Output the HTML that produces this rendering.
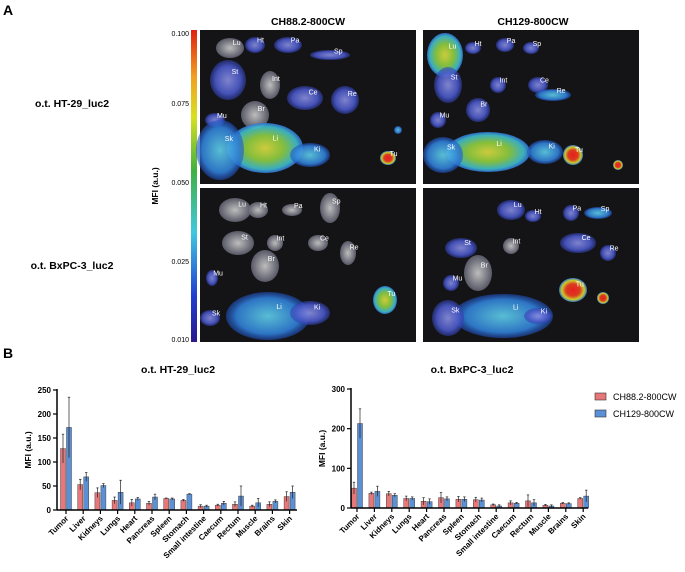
<!DOCTYPE html>
<html><head><meta charset="utf-8"><style>
body{margin:0;background:#fff;font-family:"Liberation Sans",Arial,sans-serif;}
svg text{font-family:"Liberation Sans",Arial,sans-serif;}
</style></head><body>
<svg id="fig" width="685" height="567" viewBox="0 0 685 567">
<defs>
<linearGradient id="cbar" x1="0" y1="1" x2="0" y2="0">
<stop offset="0" stop-color="#2a1a8a"/><stop offset="0.15" stop-color="#2040d0"/><stop offset="0.35" stop-color="#40c8e0"/><stop offset="0.55" stop-color="#40b040"/><stop offset="0.72" stop-color="#d8e020"/><stop offset="0.85" stop-color="#f0a020"/><stop offset="1" stop-color="#e02010"/>
</linearGradient>
<radialGradient id="gBlue"><stop offset="0" stop-color="#8a90e0"/><stop offset="0.7" stop-color="#4a58c8"/><stop offset="1" stop-color="#3040b0" stop-opacity="0.6"/></radialGradient>
<radialGradient id="gCyan"><stop offset="0" stop-color="#60d0e8"/><stop offset="0.75" stop-color="#3080d8"/><stop offset="1" stop-color="#2050c0" stop-opacity="0.6"/></radialGradient>
<radialGradient id="gGreen"><stop offset="0" stop-color="#e0e040"/><stop offset="0.5" stop-color="#90d040"/><stop offset="0.85" stop-color="#40c0d0"/><stop offset="1" stop-color="#3070d0"/></radialGradient>
<radialGradient id="gRed"><stop offset="0" stop-color="#ff2020"/><stop offset="0.5" stop-color="#f04020"/><stop offset="0.8" stop-color="#e0e030"/><stop offset="1" stop-color="#3080d8"/></radialGradient>
<radialGradient id="gGray"><stop offset="0" stop-color="#d0d0d0"/><stop offset="1" stop-color="#606070"/></radialGradient>
</defs>
<text x="3" y="15" font-size="14" font-weight="bold">A</text>
<text x="3" y="358" font-size="14" font-weight="bold">B</text>
<text x="308" y="25" font-size="10.5" font-weight="bold" text-anchor="middle">CH88.2-800CW</text>
<text x="533" y="25" font-size="10.5" font-weight="bold" text-anchor="middle">CH129-800CW</text>
<text x="72" y="107" font-size="10.5" font-weight="bold" text-anchor="middle">o.t. HT-29_luc2</text>
<text x="72" y="269" font-size="10.5" font-weight="bold" text-anchor="middle">o.t. BxPC-3_luc2</text>
<rect x="191" y="30" width="6" height="312" fill="url(#cbar)"/>
<g font-size="7" text-anchor="end">
<text x="189" y="36">0.100</text><text x="189" y="106">0.075</text><text x="189" y="185">0.050</text><text x="189" y="264">0.025</text><text x="189" y="342">0.010</text></g>
<text transform="translate(158,186) rotate(-90)" font-size="8.5" font-weight="bold" text-anchor="middle">MFI (a.u.)</text>
<g id="panels"></g>
<g id="charts"></g>
<g>
<rect x="595" y="393" width="11" height="7" fill="#e8777a" stroke="#333" stroke-width="0.6"/>
<text x="613" y="400" font-size="9">CH88.2-800CW</text>
<rect x="595" y="410" width="11" height="7" fill="#5b8fd6" stroke="#333" stroke-width="0.6"/>
<text x="613" y="417" font-size="9">CH129-800CW</text>
</g>
</svg>
<script>
const NS="http://www.w3.org/2000/svg";
const categories=["Tumor","Liver","Kidneys","Lungs","Heart","Pancreas","Spleen","Stomach","Small intestine","Caecum","Rectum","Muscle","Brains","Skin"];
const htRed=[128,53,36,20,15,14,24,20,8,10,12,8,12,28];
const htRedErr=[30,11,10,7,7,4,1,2,3,2,5,2,5,10];
const htBlue=[172,69,51,37,23,27,23,33,8,14,29,15,18,37];
const htBlueErr=[63,9,4,25,3,6,2,1,2,4,21,9,3,13];
const bxRed=[50,37,36,24,17,26,22,21,8,13,18,7,12,24];
const bxRedErr=[15,3,6,6,9,13,7,6,2,5,15,2,2,2];
const bxBlue=[213,42,32,24,16,23,22,20,5,12,13,5,11,30];
const bxBlueErr=[37,13,4,4,7,5,6,5,3,2,8,3,2,15];
const htTicks=[0,50,100,150,200,250];
const bxTicks=[0,100,200,300];

function mk(tag,attrs,parent){const e=document.createElementNS(NS,tag);for(const k in attrs)e.setAttribute(k,attrs[k]);parent.appendChild(e);return e;}

const panelsG=document.getElementById('panels');
const panels=[[200,30,'panel-ht29-ch88'],[423,30,'panel-ht29-ch129'],[200,188,'panel-bxpc3-ch88'],[423,188,'panel-bxpc3-ch129']];
const organs=[
 [[30,18,14,10,'gGray','Lu'],[55,15,10,8,'gBlue','Ht'],[88,15,14,8,'gBlue','Pa'],[130,25,20,5,'gBlue','Sp'],[28,50,18,20,'gBlue','St'],[70,55,10,14,'gGray','Int'],[105,68,18,12,'gBlue','Ce'],[145,70,14,14,'gBlue','Re'],[15,90,10,7,'gBlue','Mu'],[55,85,14,14,'gGray','Br'],[65,118,38,25,'gGreen','Li'],[110,125,20,12,'gCyan','Ki'],[20,120,24,30,'gCyan','Sk'],[188,128,8,7,'gRed','Tu'],[198,100,4,4,'gCyan','']],
 [[22,25,18,22,'gGreen','Lu'],[50,18,8,6,'gBlue','Ht'],[82,15,9,7,'gBlue','Pa'],[108,18,8,6,'gBlue','Sp'],[25,55,14,18,'gBlue','St'],[75,55,8,8,'gBlue','Int'],[115,55,10,8,'gBlue','Ce'],[130,65,18,6,'gCyan','Re'],[15,90,8,8,'gBlue','Mu'],[55,80,12,12,'gBlue','Br'],[65,122,42,20,'gGreen','Li'],[122,122,18,12,'gCyan','Ki'],[20,125,20,18,'gCyan','Sk'],[150,125,10,10,'gRed','Tu'],[195,135,5,5,'gRed','']],
 [[35,22,16,12,'gGray','Lu'],[58,22,10,8,'gGray','Ht'],[92,22,10,6,'gGray','Pa'],[130,20,10,15,'gGray','Sp'],[38,55,16,12,'gGray','St'],[75,55,8,8,'gGray','Int'],[118,55,10,8,'gGray','Ce'],[148,65,8,12,'gGray','Re'],[12,90,6,8,'gBlue','Mu'],[65,78,14,16,'gGray','Br'],[68,128,42,24,'gCyan','Li'],[110,125,20,12,'gBlue','Ki'],[10,130,10,8,'gBlue','Sk'],[185,112,12,14,'gGreen','Tu']],
 [[88,22,14,10,'gBlue','Lu'],[110,28,8,6,'gBlue','Ht'],[148,25,8,8,'gBlue','Pa'],[175,25,14,6,'gCyan','Sp'],[38,60,16,10,'gBlue','St'],[88,58,8,8,'gGray','Int'],[155,55,18,10,'gBlue','Ce'],[185,65,8,8,'gBlue','Re'],[28,95,8,8,'gBlue','Mu'],[55,85,14,18,'gGray','Br'],[80,128,50,22,'gCyan','Li'],[115,128,14,8,'gBlue','Ki'],[25,130,16,18,'gBlue','Sk'],[150,102,14,12,'gRed','Tu'],[180,110,6,6,'gRed','']]
];
panels.forEach((p,i)=>{
  const g=mk('g',{transform:`translate(${p[0]},${p[1]})`},panelsG);
  
  
  mk('rect',{x:0,y:0,width:216,height:154,fill:'#141416'},g);
  organs[i].forEach(o=>{
    const e=mk('ellipse',{cx:o[0],cy:o[1],rx:o[2],ry:o[3],fill:`url(#${o[4]})`,opacity:0.9},g);
    
    
    if(o[5]){const t=mk('text',{x:o[0]+o[2]*0.2,y:o[1]-o[3]*0.3,'font-size':7,fill:'#fff'},g);t.textContent=o[5];
      
      }
  });
});

function drawChart(cfg){
  const g=mk('g',{},document.getElementById('charts'));
  
  
  const y=v=>cfg.y0-(v/cfg.ymax)*(cfg.y0-cfg.ytop);
  const x=i=>cfg.x0+i*cfg.step;
  const t=mk('text',{x:cfg.titleX,y:373,'font-size':10.5,'font-weight':'bold','text-anchor':'middle'},g);t.textContent=cfg.title;
  
  
  const yl=mk('text',{transform:`translate(${cfg.ax-26},${(cfg.y0+cfg.ytop)/2}) rotate(-90)`,'font-size':8.5,'font-weight':'bold','text-anchor':'middle'},g);yl.textContent='MFI (a.u.)';
  
  
  cfg.ticks.forEach(v=>{
    mk('line',{x1:cfg.ax-4,x2:cfg.ax,y1:y(v),y2:y(v),stroke:'#000','stroke-width':1.2},g);
    const tt=mk('text',{x:cfg.ax-6,y:y(v)+3,'font-size':8,'font-weight':'bold','text-anchor':'end'},g);tt.textContent=v;
    
    
  });
  categories.forEach((c,i)=>{
    const cx=x(i);
    [[cfg.red[i],cfg.redE[i],'#e8777a',-5.5],[cfg.blue[i],cfg.blueE[i],'#5b8fd6',0.5]].forEach(s=>{
      const b=mk('rect',{x:cx+s[3],y:y(s[0]),width:5,height:cfg.y0-y(s[0]),fill:s[2],stroke:'#444','stroke-width':0.5},g);
      
      
      const ex=cx+s[3]+2.5;
      mk('line',{x1:ex,x2:ex,y1:y(s[0]+s[1]),y2:y(Math.max(0,s[0]-s[1])),stroke:'#222','stroke-width':0.7},g);
      mk('line',{x1:ex-1.2,x2:ex+1.2,y1:y(s[0]+s[1]),y2:y(s[0]+s[1]),stroke:'#222','stroke-width':0.7},g);
    });
    mk('line',{x1:cx,x2:cx,y1:cfg.y0,y2:cfg.y0+4,stroke:'#000','stroke-width':1.2},g);
    const lt=mk('text',{transform:`translate(${cx+3},${cfg.y0+9}) rotate(-45)`,'font-size':8,'font-weight':'bold','text-anchor':'end'},g);lt.textContent=c;
    
    
  });
  mk('line',{x1:cfg.ax,x2:cfg.ax,y1:cfg.ytop-1,y2:cfg.y0,stroke:'#000','stroke-width':1.5},g);
  mk('line',{x1:cfg.ax,x2:cfg.axEnd,y1:cfg.y0,y2:cfg.y0,stroke:'#000','stroke-width':1.5},g);
}
drawChart({name:'chart-ht29',title:'o.t. HT-29_luc2',titleX:178,ax:57,axEnd:297,x0:66,step:17.2,y0:510,ytop:390,ymax:250,ticks:htTicks,red:htRed,redE:htRedErr,blue:htBlue,blueE:htBlueErr});
drawChart({name:'chart-bxpc3',title:'o.t. BxPC-3_luc2',titleX:472,ax:351,axEnd:588,x0:357,step:17.4,y0:508,ytop:389,ymax:300,ticks:bxTicks,red:bxRed,redE:bxRedErr,blue:bxBlue,blueE:bxBlueErr});
</script>
</body></html>
